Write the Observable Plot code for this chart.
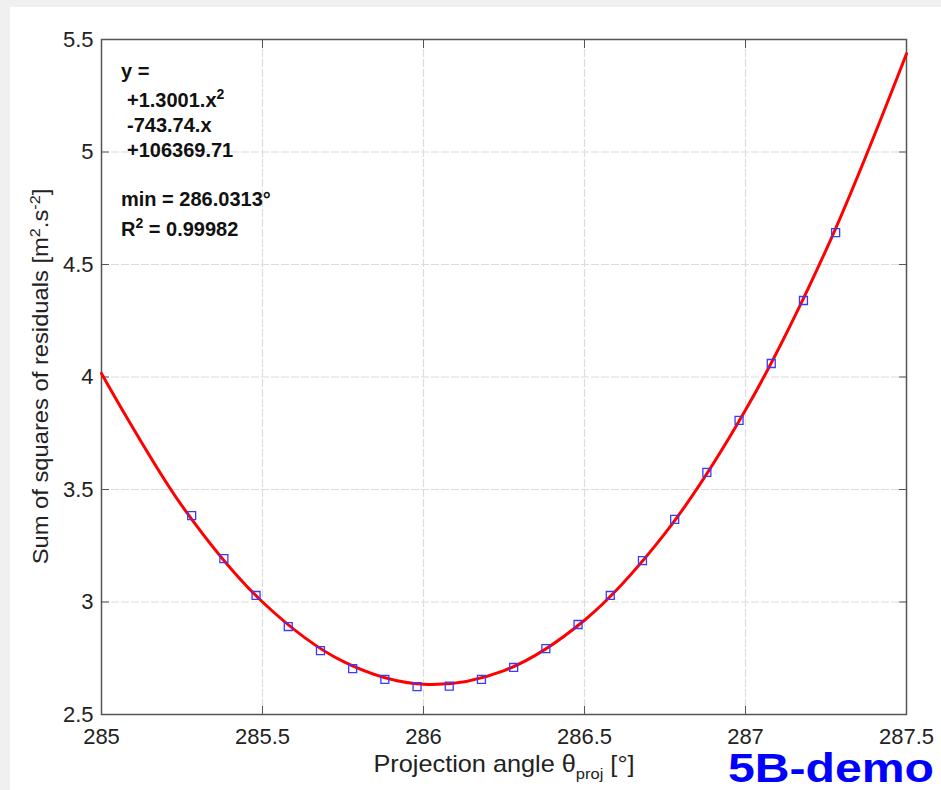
<!DOCTYPE html>
<html><head><meta charset="utf-8">
<script src="https://cdn.jsdelivr.net/npm/d3@7"></script>
<script src="https://cdn.jsdelivr.net/npm/@observablehq/plot@0.6"></script>
<style>
html,body{margin:0;padding:0;background:#f0f0f0;width:941px;height:790px;overflow:hidden}
#panel{position:absolute;left:10px;top:7px;width:931px;height:783px;background:#fff}
#panel svg{overflow:visible}
</style></head><body><div id="panel"></div>
<script>
// Measured points (projection angle, sum of squares of residuals)
const angles = [285.28, 285.38, 285.48, 285.58, 285.68, 285.78, 285.88, 285.98, 286.08, 286.18, 286.28,
                286.38, 286.48, 286.58, 286.68, 286.78, 286.88, 286.98, 287.08, 287.18, 287.28];
const ssr = [3.384, 3.193, 3.029, 2.891, 2.784, 2.704, 2.656, 2.624, 2.626, 2.656, 2.709,
             2.793, 2.900, 3.029, 3.184, 3.367, 3.576, 3.807, 4.060, 4.340, 4.642];
// Fitted curve
const fitAngles = [285, 285.25, 285.5, 285.75, 286, 286.25, 286.5, 286.75, 287, 287.25, 287.5];
const fitSsr = [4.016, 3.427, 3.000, 2.736, 2.634, 2.695, 2.919, 3.305, 3.853, 4.564, 5.437];
// Ticks
const xTicks = [285, 285.5, 286, 286.5, 287, 287.5];
const xTickLabels = ["285", "285.5", "286", "286.5", "287", "287.5"];
const yTicks = [2.5, 3, 3.5, 4, 4.5, 5, 5.5];
const yTickLabels = ["2.5", "3", "3.5", "4", "4.5", "5", "5.5"];
// Texts
const eqHead = "y =";
const eqCoefs = ["+1.3001.x", "-743.74.x", "+106369.71"];
const minText = "min = 286.0313°";
const r2Text = "0.99982";
const xTitle = ["Projection angle ", "θ", "proj", " [°]"];
const yTitle = ["Sum of squares of residuals [m", "2", ".s", "-2", "]"];
const watermark = "5B-demo";

const points = angles.map((a, i) => ({a, v: ssr[i]}));
const fit = fitAngles.map((a, i) => ({a, v: fitSsr[i]}));

const font = "Liberation Sans, Arial, sans-serif";
const plot = Plot.plot({
  width: 931, height: 783,
  marginLeft: 91, marginRight: 35, marginTop: 32, marginBottom: 76,
  style: {fontFamily: font, fontSize: "22px", color: "#222", background: "transparent"},
  x: {domain: [285, 287.5]},
  y: {domain: [2.5, 5.5]},
  marks: [
    Plot.gridX(xTicks.slice(1, -1), {stroke: "#dcdcdc", strokeOpacity: 1, strokeWidth: 1.2, strokeDasharray: "8,2"}),
    Plot.gridY(yTicks.slice(1, -1), {stroke: "#dcdcdc", strokeOpacity: 1, strokeWidth: 1.2, strokeDasharray: "8,2"}),
    Plot.axisX(xTicks, {anchor: "bottom", tickSize: -8, tickPadding: 22, label: null, fontSize: 22,
      stroke: "#555", tickFormat: d => xTickLabels[xTicks.indexOf(d)]}),
    Plot.axisX(xTicks, {anchor: "top", tickSize: -8, label: null, stroke: "#555", tickFormat: () => ""}),
    Plot.axisY(yTicks, {anchor: "left", tickSize: -8, tickPadding: 16, label: null, fontSize: 22,
      stroke: "#555", tickFormat: d => yTickLabels[yTicks.indexOf(d)]}),
    Plot.axisY(yTicks, {anchor: "right", tickSize: -8, label: null, stroke: "#555", tickFormat: () => ""}),
    Plot.frame({stroke: "#555", strokeWidth: 1.5}),
    Plot.line(fit, {x: "a", y: "v", stroke: "#ff0000", strokeWidth: 3, curve: "catmull-rom"}),
    Plot.dot(points, {x: "a", y: "v", symbol: "square", r: 4.5, stroke: "#3a3aff", fill: "none", strokeWidth: 1.3})
  ]
});
document.getElementById("panel").appendChild(plot);

const svg = d3.select(plot);
function addText(x, y, parts, opts = {}) {
  const t = svg.append("text").attr("x", x).attr("y", y)
    .attr("font-family", font).attr("font-size", opts.size || 20)
    .attr("font-weight", opts.weight || "normal").attr("fill", opts.fill || "#111")
    .attr("text-anchor", opts.anchor || "start");
  if (opts.transform) t.attr("transform", opts.transform);
  parts.forEach(p => {
    const s = t.append("tspan").text(p.text);
    if (p.dy) s.attr("dy", p.dy);
    if (p.size) s.attr("font-size", p.size);
  });
  return t;
}
// Equation annotation
const bold = {weight: "bold", size: 20};
addText(111, 71, [{text: eqHead}], bold);
addText(117, 99.7, [{text: eqCoefs[0]}, {text: "2", dy: -8, size: 14}], bold);
addText(117, 124.7, [{text: eqCoefs[1]}], bold);
addText(117, 149.7, [{text: eqCoefs[2]}], bold);
addText(111, 199, [{text: minText}], bold);
addText(111, 229, [{text: "R"}, {text: "2", dy: -8, size: 14}, {text: " = " + r2Text, dy: 8}], bold);
// X title
addText(0, 0, [{text: xTitle[0]}, {text: xTitle[1]}, {text: xTitle[2], dy: 7, size: 15}, {text: xTitle[3], dy: -7}],
  {size: 23, anchor: "middle", fill: "#222", transform: "translate(494,765) scale(1.1,1)"});
// Y title
addText(0, 0, [{text: yTitle[0]}, {text: yTitle[1], dy: -8, size: 15}, {text: yTitle[2], dy: 8}, {text: yTitle[3], dy: -8, size: 15}, {text: yTitle[4], dy: 8}],
  {size: 22, anchor: "middle", fill: "#222", transform: "translate(38,369.5) rotate(-90) scale(1.08,1)"});
// Watermark
addText(718, 775, [{text: watermark}], {size: 40, weight: "bold", fill: "#0000ff"})
  .attr("textLength", 206).attr("lengthAdjust", "spacingAndGlyphs");
</script>
</body></html>
